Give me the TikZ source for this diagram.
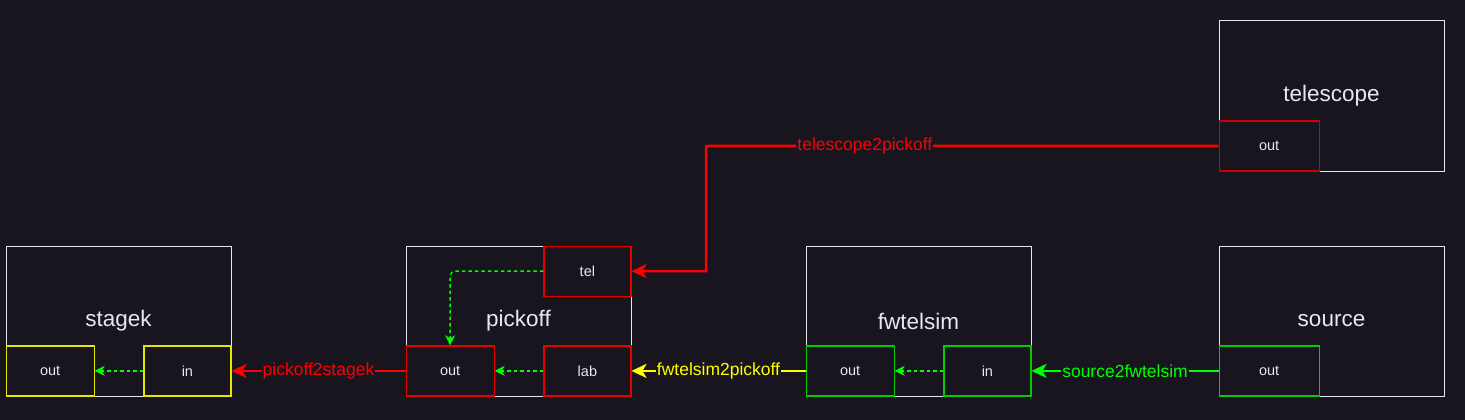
\documentclass[tikz,border=0pt]{standalone}
\usepackage{fontspec}
\setmainfont{Liberation Sans}
\usetikzlibrary{arrows.meta,positioning}

\definecolor{bg}{HTML}{18151F}
\definecolor{boxline}{HTML}{E6E6E6}
\definecolor{txt}{HTML}{E8E8EE}
\definecolor{wred}{HTML}{FF0000}
\definecolor{wyellow}{HTML}{FFFF00}
\definecolor{wgreen}{HTML}{00FF00}
\definecolor{pred}{HTML}{E60000}
\definecolor{pdred}{HTML}{D00000}
\definecolor{pyellow}{HTML}{E6E600}
\definecolor{pgreen}{HTML}{00CC00}

\tikzset{
  block/.style={draw=boxline, line width=1pt, minimum width=225pt, minimum height=150pt,
    inner sep=0pt, text=txt, font=\fontsize{22.5}{26}\selectfont},
  port/.style={draw, line width=1.2pt, minimum width=88pt, minimum height=50pt,
    inner sep=0pt, text=txt, font=\fontsize{14.5}{17}\selectfont},
  wire/.style={line width=2.5pt, -{Stealth[length=15pt,width=14pt,inset=4pt]}},
  wirelabel/.style={fill=bg, inner sep=1pt, font=\fontsize{17.5}{20}\selectfont},
  inner/.style={color=wgreen, line width=1.3pt, dash pattern=on 3.5pt off 3pt,
    -{Stealth[length=10pt,width=10pt,inset=3pt]}}
}

\begin{document}
\begin{tikzpicture}[x=1pt,y=-1pt]
  \fill[bg] (0,0) rectangle (1465,420);
  \useasboundingbox (0,0) rectangle (1465,420);

  % blocks
  \path
  node[block] (stagek)    at (118.5,321)  {stagek}
  node[block] (pickoff)   at (518.5,321)  {pickoff}
  node[block] (fwtelsim)  at (918.5,321)  {fwtelsim}
  node[block] (source)    at (1331.5,321) {source}
  node[block] (telescope) at (1331.5,96)  {telescope}
  ;

  % ports
  \path
  node[port, draw=pyellow, anchor=south west] (stagek_out) at (stagek.south west) {out}
  node[port, draw=pyellow, anchor=south east, minimum width=87pt] (stagek_in) at (stagek.south east) {in}
  node[port, draw=pred, anchor=north east, minimum width=87pt] (pickoff_tel) at (pickoff.north east) {tel}
  node[port, draw=pred, anchor=south west] (pickoff_out) at (pickoff.south west) {out}
  node[port, draw=pred, anchor=south east, minimum width=87pt] (pickoff_lab) at (pickoff.south east) {lab}
  node[port, draw=pgreen, anchor=south west] (fwtelsim_out) at (fwtelsim.south west) {out}
  node[port, draw=pgreen, anchor=south east, minimum width=87pt] (fwtelsim_in) at (fwtelsim.south east) {in}
  node[port, draw=pgreen, anchor=south west, minimum width=100pt] (source_out) at (source.south west) {out}
  node[port, draw=pdred, anchor=south west, minimum width=100pt] (telescope_out) at (telescope.south west) {out}
  ;

  % internal links
  \draw[inner] (stagek_in) -- (stagek_out);
  \draw[inner] (pickoff_lab) -- (pickoff_out);
  \draw[inner, rounded corners=5pt] (pickoff_tel.west) -| (pickoff_out.north);
  \draw[inner] (fwtelsim_in) -- (fwtelsim_out);

  % connections
  \coordinate (tbend) at (706,146);
  \draw[wire, wred] (telescope_out.west) -- node[wirelabel, text=wred, pos=0.69] {telescope2pickoff} (tbend)
    |- (pickoff_tel.east);
  \draw[wire, wyellow] (fwtelsim_out.west) -- node[wirelabel, text=wyellow] {fwtelsim2pickoff} (pickoff_lab.east);
  \draw[wire, wgreen] (source_out.west) -- node[wirelabel, text=wgreen] {source2fwtelsim} (fwtelsim_in.east);
  \draw[wire, wred] (pickoff_out.west) -- node[wirelabel, text=wred] {pickoff2stagek} (stagek_in.east);
\end{tikzpicture}
\end{document}
